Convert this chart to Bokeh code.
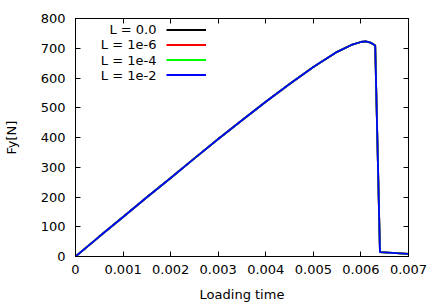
from bokeh.plotting import figure
from bokeh.models import (Legend, LegendItem, Label, LinearAxis, FixedTicker,
                          CustomJSTickFormatter, Range1d)
from bokeh.core.properties import value
from bokeh.embed import file_html
from bokeh.resources import INLINE

# ---- data ----
time = [0, 0.0005, 0.001, 0.0015, 0.002, 0.0025, 0.003, 0.0035, 0.004, 0.0045,
        0.005, 0.0055, 0.0058, 0.006, 0.0061, 0.0062, 0.0063, 0.0064, 0.007]
force_L0 = [0, 67, 133, 199, 264, 330, 395, 458, 520, 580,
            637, 688, 711, 721, 723, 719, 709, 15, 9]
force_L1e6 = list(force_L0)
force_L1e4 = list(force_L0)
force_L1e2 = list(force_L0)

series_labels = ["L = 0.0", "L = 1e-6", "L = 1e-4", "L = 1e-2"]
series_colors = ["#000000", "#ff0000", "#00ff00", "#0000ff"]
series_values = [force_L0, force_L1e6, force_L1e4, force_L1e2]

x_ticks = [0, 0.001, 0.002, 0.003, 0.004, 0.005, 0.006, 0.007]
x_tick_labels = ["0", "0.001", "0.002", "0.003", "0.004", "0.005", "0.006", "0.007"]
y_ticks = [0, 100, 200, 300, 400, 500, 600, 700, 800]

x_title = "Loading time"
y_title = "Fy[N]"

FONT = "DejaVu Sans"
FS = "13px"

p = figure(width=436, height=305, output_backend="svg", toolbar_location=None,
           x_range=Range1d(0, 0.007), y_range=Range1d(0, 800))
p.min_border_left = 74
p.min_border_right = 28
p.min_border_top = 18
p.min_border_bottom = 49
p.background_fill_color = "white"
p.border_fill_color = "white"
p.grid.visible = False
p.outline_line_color = "black"
p.outline_line_width = 1

renderers = []
for lab, col, vals in zip(series_labels, series_colors, series_values):
    r = p.line(time, vals, line_color=col, line_width=1.8)
    renderers.append(r)

def style_axis(ax, ticks, show_labels, overrides=None):
    ax.ticker = FixedTicker(ticks=ticks)
    ax.minor_tick_line_color = None
    ax.major_tick_in = 5
    ax.major_tick_out = 0
    ax.axis_line_color = "black"
    ax.major_tick_line_color = "black"
    ax.major_label_text_font = FONT
    ax.major_label_text_font_size = FS
    ax.major_label_text_color = "black"
    ax.axis_label_text_color = "black"
    ax.axis_label_text_font = FONT
    ax.axis_label_text_font_size = FS
    ax.axis_label_text_font_style = "normal"
    if not show_labels:
        ax.formatter = CustomJSTickFormatter(code="return ''")
    elif overrides:
        ax.major_label_overrides = overrides

xa = p.xaxis[0]
style_axis(xa, x_ticks, True, {t: s for t, s in zip(x_ticks, x_tick_labels)})
xa.major_label_standoff = 8
xa.axis_label = x_title
xa.axis_label_standoff = 10

ya = p.yaxis[0]
style_axis(ya, y_ticks, True)
ya.major_label_standoff = 10
ya.axis_label = y_title
ya.axis_label_standoff = 19

top = LinearAxis()
style_axis(top, x_ticks, False)
p.add_layout(top, "above")
right = LinearAxis()
style_axis(right, y_ticks, False)
p.add_layout(right, "right")

# Legend: text right-aligned, line sample to its right (gnuplot style)
row_y = [226.7, 212, 196.5, 181.5]
for lab, yy in zip(series_labels, row_y):
    p.add_layout(Label(x=81, y=yy, x_units="screen", y_units="screen", text=lab,
                       text_font=FONT, text_font_size=FS, text_align="right",
                       text_baseline="middle", text_color="black"))

legend = Legend(items=[LegendItem(label=value(""), renderers=[r]) for r in renderers],
                location=(91, 174), glyph_width=40, glyph_height=15,
                label_height=15, label_width=0, label_standoff=0, spacing=0,
                padding=0, margin=0, border_line_color=None,
                background_fill_alpha=0)
p.add_layout(legend, "center")

open("out.html", "w").write(file_html(p, INLINE))
